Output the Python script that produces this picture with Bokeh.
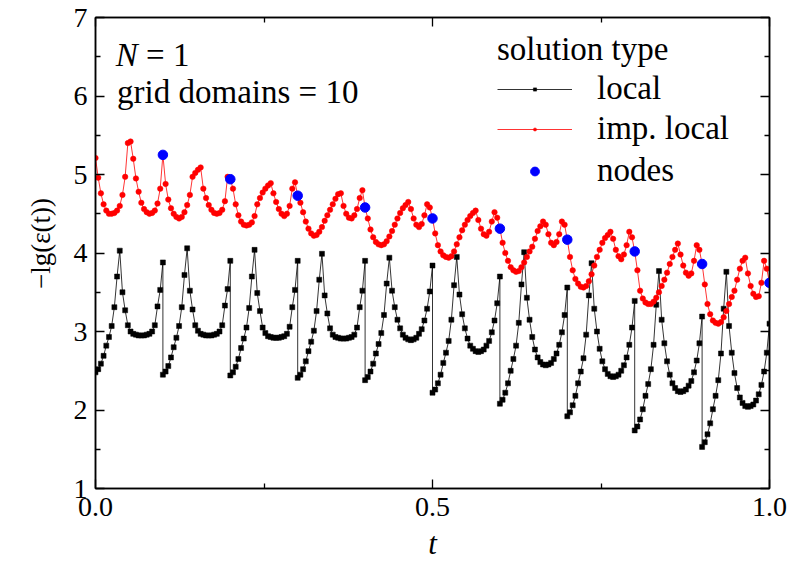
from bokeh.plotting import figure
from bokeh.models import (Range1d, LinearAxis, Legend, LegendItem, Label,
                          FixedTicker, ColumnDataSource, NumeralTickFormatter)
from bokeh.embed import file_html
from bokeh.resources import INLINE

# ---------------- data ----------------
domain_starts = [0.0, 0.1, 0.2, 0.3, 0.4, 0.5, 0.6, 0.7, 0.8, 0.9]
domain_width = 0.1
s_grid = [0.00, 0.04, 0.08, 0.12, 0.16, 0.20, 0.24, 0.28, 0.32, 0.36, 0.40, 0.44, 0.48,
          0.52, 0.56, 0.60, 0.64, 0.68, 0.72, 0.76, 0.80, 0.84, 0.88, 0.92, 0.96, 1.00]

local_values = [
    2.48, 2.52, 2.59, 2.69, 2.82, 2.93, 3.07, 3.31, 3.70, 4.03, 3.50, 3.27, 3.08, 3.00, 2.97, 2.96, 2.95, 2.95, 2.95, 2.96, 2.97, 3.00, 3.08, 3.32, 3.53, 3.88,
    2.45, 2.49, 2.56, 2.67, 2.80, 2.92, 3.07, 3.31, 3.72, 4.06, 3.52, 3.28, 3.08, 3.01, 2.97, 2.96, 2.95, 2.95, 2.95, 2.96, 2.97, 3.00, 3.08, 3.33, 3.54, 3.90,
    2.44, 2.48, 2.55, 2.65, 2.79, 2.91, 3.05, 3.30, 3.70, 4.04, 3.49, 3.26, 3.05, 2.98, 2.94, 2.93, 2.92, 2.92, 2.92, 2.93, 2.94, 2.97, 3.06, 3.31, 3.53, 3.90,
    2.41, 2.45, 2.52, 2.62, 2.75, 2.87, 3.01, 3.26, 3.66, 3.99, 3.46, 3.23, 3.04, 2.96, 2.93, 2.92, 2.91, 2.91, 2.91, 2.92, 2.93, 2.96, 3.05, 3.31, 3.52, 3.90,
    2.38, 2.42, 2.49, 2.59, 2.72, 2.84, 2.98, 3.21, 3.61, 3.94, 3.52, 3.31, 3.15, 3.04, 2.96, 2.92, 2.90, 2.89, 2.90, 2.92, 2.97, 3.03, 3.14, 3.29, 3.51, 3.84,
    2.22, 2.26, 2.34, 2.45, 2.60, 2.73, 2.88, 3.15, 3.59, 3.95, 3.47, 3.22, 3.04, 2.91, 2.82, 2.78, 2.75, 2.74, 2.75, 2.77, 2.82, 2.88, 2.99, 3.14, 3.36, 3.70,
    2.08, 2.13, 2.22, 2.34, 2.50, 2.65, 2.82, 3.11, 3.60, 4.01, 3.43, 3.15, 2.93, 2.77, 2.67, 2.61, 2.58, 2.57, 2.58, 2.60, 2.65, 2.72, 2.83, 2.99, 3.21, 3.56,
    1.92, 1.97, 2.06, 2.18, 2.34, 2.49, 2.66, 2.96, 3.46, 3.87, 3.29, 3.00, 2.78, 2.62, 2.52, 2.46, 2.43, 2.42, 2.43, 2.45, 2.50, 2.57, 2.67, 2.83, 3.05, 3.39,
    1.74, 1.79, 1.88, 2.01, 2.18, 2.33, 2.52, 2.83, 3.34, 3.77, 3.15, 2.85, 2.62, 2.45, 2.34, 2.28, 2.24, 2.23, 2.24, 2.26, 2.31, 2.37, 2.48, 2.63, 2.85, 3.19,
    1.53, 1.59, 1.69, 1.83, 2.01, 2.18, 2.38, 2.72, 3.29, 3.76, 3.07, 2.73, 2.47, 2.28, 2.16, 2.09, 2.05, 2.04, 2.05, 2.07, 2.12, 2.20, 2.32, 2.49, 2.73, 3.10,
]

imp_local_values = [
    5.21, 4.96, 4.76, 4.62, 4.54, 4.50, 4.50, 4.51, 4.54, 4.60, 4.74, 4.97, 5.40, 5.42, 5.20, 4.95, 4.78, 4.64, 4.56, 4.52, 4.50, 4.51, 4.54, 4.63, 4.82, 5.25,
    5.25, 4.88, 4.68, 4.57, 4.50, 4.46, 4.44, 4.46, 4.52, 4.61, 4.74, 4.97, 5.02, 5.06, 5.09, 4.82, 4.70, 4.61, 4.55, 4.51, 4.50, 4.51, 4.55, 4.66, 4.97, 4.94,
    4.94, 4.82, 4.62, 4.48, 4.40, 4.36, 4.35, 4.36, 4.39, 4.47, 4.62, 4.70, 4.77, 4.82, 4.86, 4.89, 4.76, 4.65, 4.56, 4.50, 4.47, 4.50, 4.60, 4.82, 4.90, 4.73,
    4.73, 4.64, 4.52, 4.40, 4.31, 4.25, 4.22, 4.23, 4.27, 4.33, 4.41, 4.48, 4.55, 4.62, 4.69, 4.75, 4.76, 4.60, 4.50, 4.45, 4.44, 4.48, 4.56, 4.70, 4.80, 4.58,
    4.58, 4.44, 4.30, 4.20, 4.14, 4.11, 4.10, 4.11, 4.15, 4.21, 4.28, 4.36, 4.44, 4.51, 4.57, 4.61, 4.65, 4.56, 4.44, 4.36, 4.33, 4.37, 4.48, 4.62, 4.58, 4.44,
    4.44, 4.25, 4.10, 4.02, 3.97, 3.95, 3.94, 3.96, 4.02, 4.11, 4.20, 4.29, 4.36, 4.42, 4.47, 4.51, 4.54, 4.42, 4.31, 4.24, 4.22, 4.27, 4.40, 4.52, 4.45, 4.31,
    4.31, 4.13, 4.00, 3.90, 3.82, 3.78, 3.76, 3.77, 3.82, 3.88, 3.95, 4.02, 4.08, 4.18, 4.28, 4.34, 4.40, 4.36, 4.24, 4.13, 4.10, 4.14, 4.24, 4.40, 4.36, 4.17,
    4.17, 3.95, 3.78, 3.67, 3.61, 3.57, 3.56, 3.58, 3.64, 3.73, 3.84, 3.95, 4.04, 4.13, 4.19, 4.23, 4.27, 4.18, 4.04, 3.96, 3.92, 3.98, 4.10, 4.27, 4.20, 4.02,
    4.02, 3.78, 3.52, 3.42, 3.37, 3.35, 3.35, 3.38, 3.43, 3.50, 3.58, 3.66, 3.75, 3.86, 3.95, 4.04, 4.12, 3.98, 3.84, 3.75, 3.71, 3.74, 3.90, 4.10, 4.04, 3.86,
    3.86, 3.60, 3.35, 3.22, 3.14, 3.11, 3.10, 3.12, 3.18, 3.26, 3.35, 3.44, 3.52, 3.66, 3.80, 3.90, 3.94, 3.74, 3.58, 3.48, 3.44, 3.45, 3.62, 3.90, 3.80, 3.62,
]

node_t = [0.1, 0.2, 0.3, 0.4, 0.5, 0.6, 0.7, 0.8, 0.9, 1.0]
node_values = [5.25, 4.94, 4.73, 4.58, 4.44, 4.31, 4.17, 4.02, 3.86, 3.62]

x_ticks = [0.0, 0.5, 1.0]
x_minor = [0.25, 0.75]
y_ticks = [1, 2, 3, 4, 5, 6, 7]
y_minor = [1.5, 2.5, 3.5, 4.5, 5.5, 6.5]

# ---------------- figure ----------------
FONT = "Liberation Serif"
t_all = [round(d + domain_width * s, 5) for d in domain_starts for s in s_grid]

p = figure(frame_width=674, frame_height=471, output_backend="svg", toolbar_location=None,
           x_range=Range1d(0, 1), y_range=Range1d(1, 7),
           min_border_left=95, min_border_right=22, min_border_top=17, min_border_bottom=70)
p.xgrid.visible = False
p.ygrid.visible = False
p.outline_line_color = "black"
p.outline_line_width = 1.5
p.background_fill_color = "white"
p.border_fill_color = "white"

def style_axis(ax, ticks, minor, show_labels):
    ax.ticker = FixedTicker(ticks=ticks, minor_ticks=minor)
    ax.axis_line_color = "black"
    ax.axis_line_width = 1.5
    ax.major_tick_in = 9
    ax.major_tick_out = 0
    ax.minor_tick_in = 5
    ax.minor_tick_out = 0
    ax.major_tick_line_width = 1.3
    ax.minor_tick_line_width = 1.3
    ax.major_tick_line_color = "black"
    ax.minor_tick_line_color = "black"
    ax.major_label_text_font = FONT
    ax.major_label_text_color = "black"
    ax.major_label_text_font_size = "28px"
    if not show_labels:
        ax.major_label_overrides = {tk: "" for tk in ticks}
        ax.major_label_standoff = 0

xa = p.xaxis[0]
style_axis(xa, x_ticks, x_minor, True)
xa.formatter = NumeralTickFormatter(format="0.0")
xa.major_label_standoff = 9
xa.axis_label = "t"
xa.axis_label_text_font = FONT
xa.axis_label_text_font_style = "italic"
xa.axis_label_text_font_size = "31px"
xa.axis_label_text_color = "black"
xa.axis_label_standoff = 7

ya = p.yaxis[0]
style_axis(ya, y_ticks, y_minor, True)
ya.major_label_standoff = 8
# leading en + thin space moves the visible label up a little, as in the reference
ya.axis_label = "\u2002\u2009−lg(ε(t))"
ya.axis_label_text_font = FONT
ya.axis_label_text_font_style = "normal"
ya.axis_label_text_font_size = "27px"
ya.axis_label_text_color = "black"
ya.axis_label_standoff = 15

top_ax = LinearAxis()
style_axis(top_ax, x_ticks, x_minor, False)
p.add_layout(top_ax, "above")
right_ax = LinearAxis()
style_axis(right_ax, y_ticks, y_minor, False)
p.add_layout(right_ax, "right")

# ---------------- data renderers ----------------
src_local = ColumnDataSource(dict(t=t_all, v=local_values))
src_imp = ColumnDataSource(dict(t=t_all, v=imp_local_values))
src_nodes = ColumnDataSource(dict(t=node_t, v=node_values))

local_line = p.line("t", "v", source=src_local, line_color="black", line_width=0.8)
local_pts = p.scatter("t", "v", source=src_local, marker="square", size=5,
                      fill_color="black", line_color="black", line_width=0.5)
imp_line = p.line("t", "v", source=src_imp, line_color="red", line_width=0.8)
imp_pts = p.scatter("t", "v", source=src_imp, marker="circle", size=5.5,
                    fill_color="red", line_color="red", line_width=0.5)
node_pts = p.scatter("t", "v", source=src_nodes, marker="circle", size=9.5,
                     fill_color="blue", line_color="blue")

legend_a = Legend(items=[LegendItem(label="local", renderers=[local_line, local_pts]),
                         LegendItem(label="imp. local", renderers=[imp_line, imp_pts])],
                  location=(402, 341), title="solution type",
                  glyph_width=75, glyph_height=8, label_height=36, label_standoff=25,
                  spacing=3, padding=0, margin=0, border_line_alpha=0, background_fill_alpha=0,
                  label_text_font=FONT, label_text_font_size="33px", label_text_color="black",
                  title_text_font=FONT, title_text_font_size="33px", title_text_font_style="normal",
                  title_text_color="black", title_standoff=2)
legend_b = Legend(items=[LegendItem(label="nodes", renderers=[node_pts])],
                  location=(402, 299),
                  glyph_width=75, glyph_height=22, label_height=22, label_standoff=25,
                  spacing=3, padding=0, margin=0, border_line_alpha=0, background_fill_alpha=0,
                  label_text_font=FONT, label_text_font_size="33px", label_text_color="black")
p.add_layout(legend_a, "center")
p.add_layout(legend_b, "center")

# ---------------- annotations ----------------
p.add_layout(Label(x=0.030, y=6.516, text="N", text_font=FONT, text_font_style="italic",
                   text_color="black", text_font_size="33px", text_baseline="alphabetic",
                   text_align="left"))
p.add_layout(Label(x=0.075, y=6.516, text="= 1", text_font=FONT, text_color="black",
                   text_font_size="33px", text_baseline="alphabetic", text_align="left"))
p.add_layout(Label(x=0.032, y=6.05, text="grid domains = 10", text_font=FONT, text_color="black",
                   text_font_size="33px", text_baseline="alphabetic", text_align="left"))

open("out.html", "w").write(file_html(p, INLINE))
